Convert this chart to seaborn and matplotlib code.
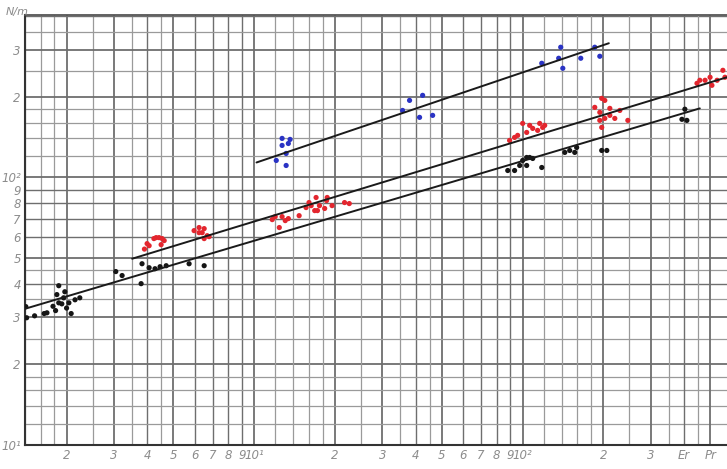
import numpy as np
import pandas as pd
import matplotlib
matplotlib.use("Agg")
import matplotlib.pyplot as plt
import seaborn as sns

# ---- data ----
black_x = [1.41, 1.42, 1.52, 1.65, 1.69, 1.82, 1.84, 1.87, 1.87, 1.92, 1.95, 2.04, 2.08, 2.15, 2.24, 1.97, 1.78, 2.0,
           3.05, 3.22, 3.82, 3.79, 4.06, 4.27, 4.46, 4.70, 5.72, 6.51,
           88, 93.3, 97.5, 100, 103.5, 106.2, 109, 103.5, 117.8, 143.5, 149.7, 156.3, 158.9, 197, 205.8,
           402, 392, 409]
black_y = [32.9, 29.9, 30.4, 31.0, 31.2, 31.8, 36.5, 39.4, 34.0, 33.7, 35.5, 34.0, 31.0, 34.9, 35.5, 37.4, 33.0, 32.5,
           44.5, 43.0, 47.6, 40.1, 46.0, 45.6, 46.4, 46.8, 47.6, 46.8,
           106.2, 106.2, 110.9, 115.8, 118.8, 118.8, 117.8, 110.9, 109, 124.1, 126.2, 124.1, 129.5, 126.2, 126.2,
           180, 165, 163.5]

red_x = [3.9, 3.99, 4.06, 4.23, 4.31, 4.42, 4.50, 4.62, 4.54,
         5.97, 6.23, 6.40, 6.51, 6.68, 6.23, 6.51, 6.79,
         11.67, 11.97, 12.4, 12.7, 13.05, 13.4, 14.7,
         15.6, 16.0, 16.3, 16.8, 17.0, 17.2, 17.5, 18.3, 18.6, 18.7, 19.5, 21.7, 22.6,
         89.4, 93.3, 95.8, 100, 103.5, 106.2, 109, 113.7, 115.7, 118.7, 120.8,
         185.6, 197, 202.3, 211.2, 193.8, 202.3, 220.4, 246.5, 197, 193.8, 211.2, 230.1,
         446, 457, 478, 507, 530, 557, 567, 499]
red_y = [54.0, 56.6, 55.6, 59.1, 59.6, 59.6, 56.1, 58.1, 59.1,
         63.3, 65.0, 62.2, 64.4, 60.6, 62.2, 59.1, 60.1,
         69.6, 71.4, 65.0, 71.4, 69.0, 70.2, 72.0,
         77.2, 80.6, 78.5, 75.2, 84.2, 75.2, 78.5, 76.6, 82.0, 84.2, 78.5, 80.6, 79.9,
         137.6, 141.2, 143.7, 159.3, 147.4, 156.6, 152.6, 150.0, 159.3, 153.9, 156.6,
         182.9, 197.6, 194.2, 181.3, 175.2, 166.3, 166.3, 163.5, 153.9, 163.5, 170.7, 178.1,
         224.9, 230.9, 230.9, 221.1, 230.9, 251.6, 237.0, 237.0]

blue_x = [12.7, 13.6, 12.7, 13.4, 13.15, 12.08, 13.15,
          37.9, 42.4, 35.7, 41.3, 46.2,
          117.8, 138.6, 136.2, 141.1, 164.6, 185.6, 193.8]
blue_y = [140, 138.8, 131.8, 134.0, 123.0, 115.8, 110.9,
          194.2, 202.8, 178.1, 167.8, 170.7,
          267.3, 306.9, 279.1, 256.0, 279.1, 306.9, 283.9]

# fitted lines (end points)
line_black_x = [1.40, 457]
line_black_y = [32.3, 181.3]
line_red_x = [3.51, 577]
line_red_y = [49.7, 237.0]
line_blue_x = [10.2, 209.4]
line_blue_y = [113.8, 317.6]

x_tick_vals = [2, 3, 4, 5, 6, 7, 8, 9, 10, 20, 30, 40, 50, 60, 70, 80, 90, 100, 200, 300, 400, 500]
x_tick_labels = ["2", "3", "4", "5", "6", "7", "8", "9", "10¹", "2", "3", "4", "5", "6", "7", "8", "9", "10²",
                 "2", "3", "Er", "Pr"]
y_tick_vals = [10, 20, 30, 40, 50, 60, 70, 80, 90, 100, 200, 300]
y_tick_labels = ["10¹", "2", "3", "4", "5", "6", "7", "8", "9", "10²", "2", "3"]

# ---- figure ----
sns.set_style("white")
plt.rcParams["font.family"] = ["DejaVu Sans"]

fig = plt.figure(figsize=(7.27, 4.69), dpi=100)
ax = fig.add_axes([25 / 727, 24 / 469, 702 / 727, 430 / 469])
ax.set_xscale("log")
ax.set_yscale("log")
ax.set_xlim(1.40, 577)
ax.set_ylim(10, 405)

# grid lines (log paper)
minor_mult_x = [1.2, 1.4, 1.6, 1.8, 2.5, 3.5, 4.5]
major_mult = [1, 2, 3, 4, 5, 6, 7, 8, 9]
for dec in [1, 10, 100]:
    for m in major_mult:
        v = m * dec
        lw = 1.3 if m in (1, 2, 3, 5) else 1.0
        ax.axvline(v, color="#6e6e6e", lw=lw, zorder=0)
        ax.axhline(v, color="#6e6e6e", lw=lw, zorder=0)
    for m in minor_mult_x:
        v = m * dec
        ax.axvline(v, color="#9a9a9a", lw=0.9, zorder=0)
        ax.axhline(v, color="#9a9a9a", lw=0.9, zorder=0)

df = pd.DataFrame({
    "x": black_x + red_x + blue_x,
    "y": black_y + red_y + blue_y,
    "grp": ["black"] * len(black_x) + ["red"] * len(red_x) + ["blue"] * len(blue_x),
})
pal = {"black": "#151515", "red": "#e3262e", "blue": "#2a33c4"}
sns.scatterplot(data=df, x="x", y="y", hue="grp", palette=pal, s=14, linewidth=0,
                legend=False, ax=ax, zorder=3)

lines = pd.DataFrame({
    "x": line_black_x + line_red_x + line_blue_x,
    "y": line_black_y + line_red_y + line_blue_y,
    "u": ["b", "b", "r", "r", "u", "u"],
})
sns.lineplot(data=lines, x="x", y="y", units="u", estimator=None, color="#1a1a1a",
             lw=1.4, ax=ax, zorder=4, sort=False)

ax.set_xticks(x_tick_vals)
ax.set_xticklabels(x_tick_labels)
ax.set_yticks(y_tick_vals)
ax.set_yticklabels(y_tick_labels)
ax.xaxis.set_minor_locator(matplotlib.ticker.NullLocator())
ax.yaxis.set_minor_locator(matplotlib.ticker.NullLocator())
ax.tick_params(axis="both", length=0, labelsize=8.5, labelcolor="#8c8c8c", pad=3)
for t in ax.get_xticklabels() + ax.get_yticklabels():
    t.set_fontstyle("italic")
ax.set_xlabel("")
ax.set_ylabel("")

for s in ["left", "bottom"]:
    ax.spines[s].set_color("#333333")
    ax.spines[s].set_linewidth(1.5)
ax.spines["top"].set_color("#555555")
ax.spines["top"].set_linewidth(1.3)
ax.spines["right"].set_visible(False)

fig.text(6 / 727, 1 - 12 / 469, "N/m", fontsize=8, color="#8c8c8c", style="italic",
         ha="left", va="center")

fig.savefig("out.png", dpi=100)
